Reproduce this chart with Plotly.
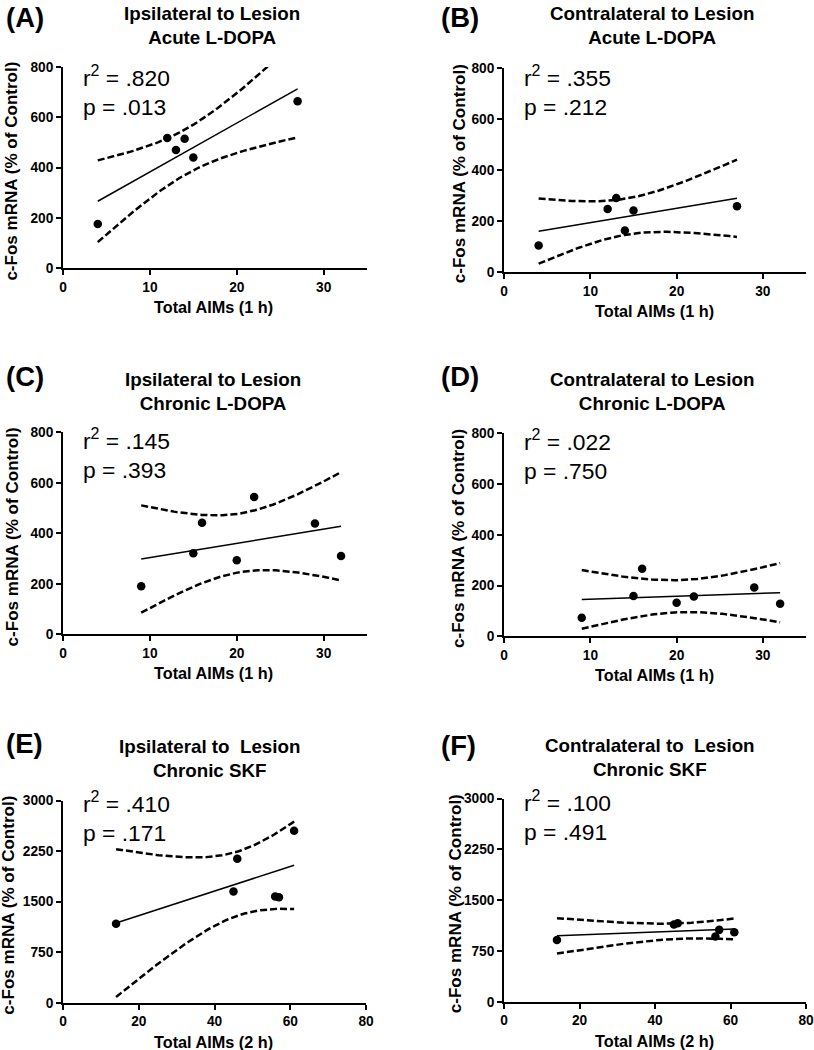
import numpy as np
import plotly.graph_objects as go

# ---------------- data ----------------
aims_1h_acute = [4, 12, 13, 14, 15, 27]
fos_A = [176, 518, 470, 515, 440, 664]
fos_B = [105, 248, 291, 163, 242, 258]

aims_1h_chronic = [9, 15, 16, 20, 22, 29, 32]
fos_C = [191, 321, 442, 294, 544, 439, 310]
fos_D = [74, 159, 267, 133, 157, 193, 129]

aims_2h_skf = [14, 45, 46, 56, 57, 61]
fos_E = [1171, 1651, 2135, 1577, 1567, 2551]
fos_F = [913, 1140, 1159, 962, 1061, 1026]

panel_labels = ["(A)", "(B)", "(C)", "(D)", "(E)", "(F)"]
titles = ["Ipsilateral to Lesion<br>Acute L-DOPA",
          "Contralateral to Lesion<br>Acute L-DOPA",
          "Ipsilateral to Lesion<br>Chronic L-DOPA",
          "Contralateral to Lesion<br>Chronic L-DOPA",
          "Ipsilateral to  Lesion<br>Chronic SKF",
          "Contralateral to  Lesion<br>Chronic SKF"]
r2_text = [".820", ".355", ".145", ".022", ".410", ".100"]
p_text = [".013", ".212", ".393", ".750", ".171", ".491"]
x_titles = ["Total AIMs (1 h)"] * 4 + ["Total AIMs (2 h)"] * 2
y_title = "c-Fos mRNA (% of Control)"
x_ticks_1h = [0, 10, 20, 30]
x_ticks_2h = [0, 20, 40, 60, 80]
y_ticks_ldopa = [0, 200, 400, 600, 800]
y_ticks_skf = [0, 750, 1500, 2250, 3000]
x_ticks = [x_ticks_1h] * 4 + [x_ticks_2h] * 2
y_ticks = [y_ticks_ldopa] * 4 + [y_ticks_skf] * 2
x_max = [35] * 4 + [80] * 2

# t(0.975, df) for 95% confidence band of the regression line
T975 = {4: 2.776, 5: 2.571}

panels = [(aims_1h_acute, fos_A), (aims_1h_acute, fos_B),
          (aims_1h_chronic, fos_C), (aims_1h_chronic, fos_D),
          (aims_2h_skf, fos_E), (aims_2h_skf, fos_F)]

# ---------------- layout geometry (target pixels) ----------------
W, H = 814, 1050
# the photographed page comes out slightly shrunk/offset; compensate
SC, OX, OY = 0.985, 4.0, 7.0
# plot boxes: left, right, top, bottom
boxes = [(63, 367, 67, 268), (504, 807, 68, 272),
         (63, 367, 432, 634), (504, 807, 433, 636),
         (63, 366, 800, 1002), (504, 806, 798, 1001)]
label_pos = [(0, 17), (439, 17), (0, 376), (439, 376), (0, 743), (439, 745)]
title_pos = [(212, 25), (652, 25), (213, 391), (652, 391), (209, 758), (650, 757)]
ytitle_x = [12, 459, 12, 459, 9, 455]
xtitle_x = [213, 654, 213, 654, 213, 654]
ann_mid = [24, 23, 22, 22, 16, 17]

FONT = "Arial, 'Liberation Sans', sans-serif"


def px(x):
    return min(1.0, max(0.0, (x - OX) / SC / W))


def py(y):
    return min(1.0, max(0.0, 1 - (y - OY) / SC / H))


def fs(size):
    return round(size / SC, 2)


def bold(v):
    return "<b>" + str(v) + "</b>"


fig = go.Figure()
annotations = []

for i, ((xs, ys), (l, r, t, b)) in enumerate(zip(panels, boxes)):
    xs_a = np.asarray(xs, float)
    ys_a = np.asarray(ys, float)
    n = len(xs_a)
    xm, ym = xs_a.mean(), ys_a.mean()
    sxx = ((xs_a - xm) ** 2).sum()
    slope = ((xs_a - xm) * (ys_a - ym)).sum() / sxx
    icpt = ym - slope * xm
    resid = ys_a - (icpt + slope * xs_a)
    s = np.sqrt((resid ** 2).sum() / (n - 2))
    xg = np.linspace(xs_a.min(), xs_a.max(), 80)
    yfit = icpt + slope * xg
    half = T975[n - 2] * s * np.sqrt(1 / n + (xg - xm) ** 2 / sxx)

    k = "" if i == 0 else str(i + 1)
    xa, ya = "x" + k, "y" + k

    dash_line = dict(color="black", width=2.5, dash="7px,3px")
    fig.add_trace(go.Scatter(x=xg, y=yfit + half, mode="lines", xaxis=xa, yaxis=ya,
                             line=dash_line, showlegend=False, hoverinfo="skip"))
    fig.add_trace(go.Scatter(x=xg, y=yfit - half, mode="lines", xaxis=xa, yaxis=ya,
                             line=dash_line, showlegend=False, hoverinfo="skip"))
    fig.add_trace(go.Scatter(x=xg, y=yfit, mode="lines", xaxis=xa, yaxis=ya,
                             line=dict(color="black", width=1.5),
                             showlegend=False, hoverinfo="skip"))
    fig.add_trace(go.Scatter(x=xs, y=ys, mode="markers", xaxis=xa, yaxis=ya,
                             marker=dict(color="black", size=8.5),
                             showlegend=False, cliponaxis=False))

    axis_common = dict(showline=True, linecolor="black", linewidth=2,
                       ticks="outside", ticklen=5, tickwidth=2, tickcolor="black",
                       showgrid=False, zeroline=False, tickmode="array",
                       tickfont=dict(family=FONT, size=fs(13.5), color="black"))
    fig.update_layout(**{
        "xaxis" + k: dict(domain=[px(l), px(r)], range=[0, x_max[i]],
                          tickvals=x_ticks[i], ticktext=[bold(v) for v in x_ticks[i]],
                          anchor=ya, **axis_common),
        "yaxis" + k: dict(domain=[py(b), py(t)], range=[y_ticks[i][0], y_ticks[i][-1]],
                          tickvals=y_ticks[i], ticktext=[bold(v) for v in y_ticks[i]],
                          anchor=xa, **axis_common),
    })

    # panel label
    lx, ly = label_pos[i]
    annotations.append(dict(x=px(lx), y=py(ly), xref="paper", yref="paper",
                            xanchor="left", yanchor="middle", showarrow=False,
                            text=bold(panel_labels[i]),
                            font=dict(family=FONT, size=fs(27), color="black")))
    # title
    tx, ty = title_pos[i]
    annotations.append(dict(x=px(tx), y=py(ty), xref="paper", yref="paper",
                            xanchor="center", yanchor="middle", showarrow=False,
                            text="<br>".join(bold(s_) for s_ in titles[i].split("<br>")),
                            font=dict(family=FONT, size=fs(18.5), color="black")))
    # y title
    annotations.append(dict(x=px(ytitle_x[i]), y=py((t + b) / 2 + 4), xref="paper", yref="paper",
                            xanchor="center", yanchor="middle", showarrow=False,
                            textangle=-90, text=bold(y_title),
                            font=dict(family=FONT, size=fs(16.8), color="black")))
    # x title
    annotations.append(dict(x=px(xtitle_x[i]), y=py(b + 39), xref="paper", yref="paper",
                            xanchor="center", yanchor="middle", showarrow=False,
                            text=bold(x_titles[i]),
                            font=dict(family=FONT, size=fs(16), color="black")))
    # stats
    annotations.append(dict(x=px(l + 18), y=py(t + ann_mid[i]), xref="paper", yref="paper",
                            xanchor="left", yanchor="middle", showarrow=False, align="left",
                            text="r<sup>2</sup> = " + r2_text[i] + "<br>p = " + p_text[i],
                            font=dict(family=FONT, size=fs(22.5), color="black")))

fig.update_layout(width=W, height=H, margin=dict(l=0, r=0, t=0, b=0),
                  paper_bgcolor="white", plot_bgcolor="white",
                  annotations=annotations, showlegend=False,
                  font=dict(family=FONT, color="black"))

page_css = ("document.documentElement.style.margin='0';"
            "document.documentElement.style.overflow='hidden';"
            "document.body.style.margin='0';"
            "document.body.style.padding='0';"
            "document.body.style.overflow='hidden';")

fig.write_html("out.html", config={"displayModeBar": False}, post_script=page_css)
